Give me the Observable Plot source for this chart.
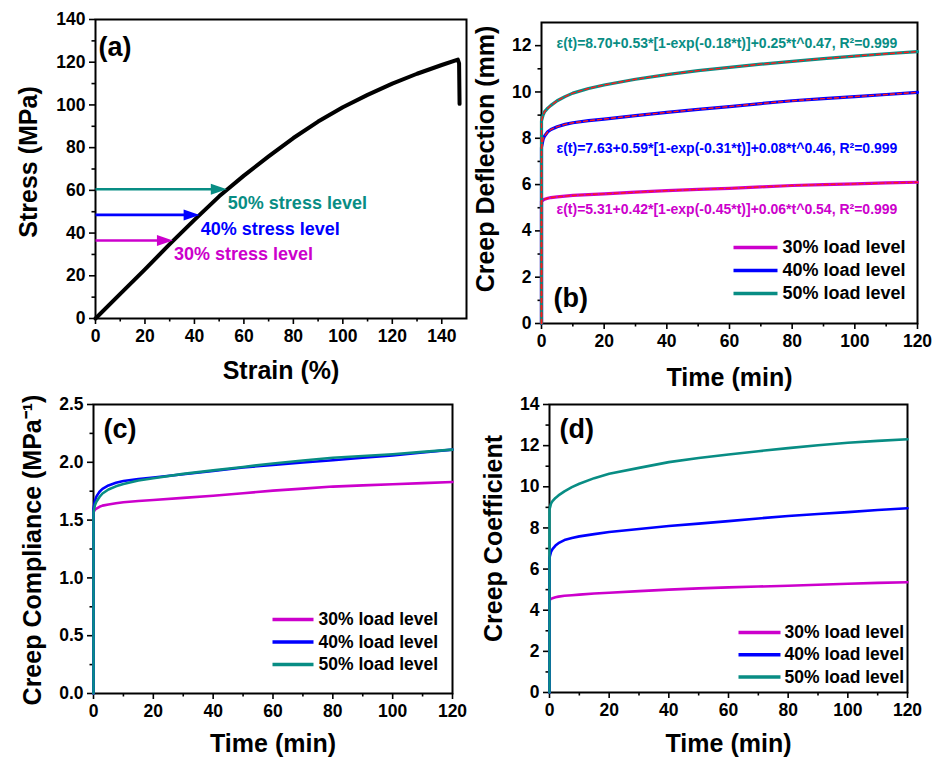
<!DOCTYPE html>
<html><head><meta charset="utf-8">
<script src="https://cdn.jsdelivr.net/npm/d3@7"></script>
<script src="https://cdn.jsdelivr.net/npm/@observablehq/plot@0.6"></script>
<style>
body{margin:0;background:#fff;}
#fig{position:relative;width:934px;height:758px;background:#fff;overflow:hidden;}
#fig svg{position:absolute;}
#fig svg text{font-weight:700 !important;font-family:'Liberation Sans', Arial, sans-serif !important;}
</style></head><body><div id="fig"></div>
<script>
// ---------- Panel (a): tensile stress-strain ----------
const strainA = [0, 10, 20, 30, 40, 50, 60, 70, 80, 90, 100, 110, 120, 130, 140, 146.5, 147, 147.2];
const stressA = [0, 11.5, 23, 34.8, 46.2, 57.2, 66.9, 75.9, 84.5, 92.2, 98.9, 104.7, 110, 114.6, 118.7, 121.2, 119.5, 100.5];
const levelLabels = ["30% stress level", "40% stress level", "50% stress level"];
const levelStress = [36.5, 48.5, 60.5];
const levelStrainTip = [31.3, 42.1, 53.1];

// ---------- Panels (b)-(d): creep data ----------
const timeMin = [0, 0, 0.5, 1, 2, 3, 5, 7.5, 10, 15, 20, 30, 40, 50, 60, 70, 80, 90, 100, 110, 120];
const loadLabels = ["30% load level", "40% load level", "50% load level"];

const deflection30 = [0, 5.28, 5.33, 5.37, 5.41, 5.44, 5.47, 5.5, 5.53, 5.57, 5.6, 5.67, 5.74, 5.79, 5.84, 5.9, 5.96, 6.0, 6.03, 6.07, 6.1];
const deflection40 = [0, 7.6, 7.95, 8.1, 8.28, 8.38, 8.5, 8.6, 8.67, 8.76, 8.83, 8.98, 9.12, 9.25, 9.37, 9.5, 9.62, 9.71, 9.8, 9.89, 9.98];
const deflection50 = [0, 8.75, 9.0, 9.15, 9.3, 9.42, 9.62, 9.8, 9.95, 10.15, 10.3, 10.55, 10.75, 10.92, 11.06, 11.2, 11.32, 11.44, 11.55, 11.65, 11.74];
const fitEquations = [
  "ε(t)=5.31+0.42*[1-exp(-0.45*t)]+0.06*t^0.54, R²=0.999",
  "ε(t)=7.63+0.59*[1-exp(-0.31*t)]+0.08*t^0.46, R²=0.999",
  "ε(t)=8.70+0.53*[1-exp(-0.18*t)]+0.25*t^0.47, R²=0.999"
];

const compliance30 = [0, 1.57, 1.59, 1.6, 1.615, 1.625, 1.635, 1.645, 1.654, 1.665, 1.674, 1.692, 1.71, 1.732, 1.755, 1.772, 1.79, 1.8, 1.81, 1.82, 1.83];
const compliance40 = [0, 1.6, 1.67, 1.705, 1.745, 1.77, 1.8, 1.823, 1.838, 1.855, 1.868, 1.897, 1.925, 1.955, 1.978, 1.998, 2.018, 2.04, 2.06, 2.085, 2.11];
const compliance50 = [0, 1.57, 1.63, 1.66, 1.70, 1.73, 1.765, 1.792, 1.812, 1.842, 1.862, 1.9, 1.93, 1.96, 1.99, 2.015, 2.04, 2.055, 2.07, 2.09, 2.11];

const coefficient30 = [0, 4.48, 4.55, 4.58, 4.63, 4.66, 4.7, 4.73, 4.76, 4.81, 4.85, 4.93, 5.0, 5.06, 5.11, 5.15, 5.19, 5.24, 5.29, 5.33, 5.36];
const coefficient40 = [0, 6.55, 6.83, 6.97, 7.14, 7.26, 7.41, 7.51, 7.59, 7.7, 7.8, 7.95, 8.09, 8.21, 8.33, 8.46, 8.58, 8.68, 8.77, 8.87, 8.96];
const coefficient50 = [0, 8.9, 9.18, 9.3, 9.46, 9.58, 9.78, 9.98, 10.15, 10.42, 10.63, 10.92, 11.2, 11.4, 11.57, 11.73, 11.88, 12.02, 12.14, 12.23, 12.31];

// ---------- styling ----------
const FONT = "'Liberation Sans', Arial, Helvetica, sans-serif";
const colors = ["#cc00cc", "#0000ff", "#088d84"];
const FIT_RED = "#ff1a1a";

const series = (vals) => timeMin.map((t, i) => ({t, v: vals[i]}));

const arrowHead = {draw(ctx) { ctx.moveTo(0, 0); ctx.lineTo(-16, -5.5); ctx.lineTo(-16, 5.5); ctx.closePath(); }};

function panel(cfg) {
  const [mt, mr, mb, ml] = cfg.margin;
  const W = cfg.width, H = cfg.height;
  const fw = W - ml - mr, fh = H - mt - mb;
  const [x0, x1] = cfg.xDomain, [y0, y1] = cfg.yDomain;
  const invX = px => x0 + (px - ml) / fw * (x1 - x0);
  const invY = py => y0 + (H - mb - py) / fh * (y1 - y0);
  const extra = cfg.marks({invX, invY});
  const tickOpts = {fontSize: 17.5, fontWeight: "bold", strokeWidth: 1.6, label: null};
  const svg = Plot.plot({
    width: W, height: H,
    marginTop: mt, marginRight: mr, marginBottom: mb, marginLeft: ml,
    x: {domain: cfg.xDomain},
    y: {domain: cfg.yDomain},
    color: {type: "identity"},
    style: {fontFamily: FONT, fontWeight: "bold", color: "black", background: "none", overflow: "visible"},
    marks: [
      Plot.frame({stroke: "black", strokeWidth: 2}),
      Plot.axisX({...tickOpts, ticks: cfg.xTicks, tickSize: 6, tickPadding: 5, tickFormat: cfg.xFmt || (d => String(d))}),
      Plot.axisX({...tickOpts, ticks: cfg.xMinor, tickSize: 3.5, tickFormat: () => ""}),
      Plot.axisY({...tickOpts, ticks: cfg.yTicks, tickSize: 6, tickPadding: 4, tickFormat: cfg.yFmt || (d => String(d))}),
      Plot.axisY({...tickOpts, ticks: cfg.yMinor, tickSize: 3.5, tickFormat: () => ""}),
      ...extra,
      Plot.text([cfg.xLabel], {text: d => d, frameAnchor: "bottom", dy: cfg.xLabelDy, fontSize: 25, fontWeight: "bold", textAnchor: "middle", lineAnchor: "middle", fill: "black"}),
      Plot.text([cfg.yLabel], {text: d => d, frameAnchor: "left", rotate: -90, dx: cfg.yLabelDx, dy: cfg.yLabelDy, fontSize: 25, fontWeight: "bold", textAnchor: "middle", lineAnchor: "middle", fill: "black"}),
      Plot.text([cfg.tag], {text: d => d, frameAnchor: cfg.tagAnchor, dx: cfg.tagDx, dy: cfg.tagDy, fontSize: 27, fontWeight: "bold", textAnchor: "start", lineAnchor: "middle", fill: "black"})
    ]
  });
  d3.select(svg).selectAll("text").attr("font-weight", "bold").style("font-weight", "bold");
  svg.style.left = cfg.left + "px";
  svg.style.top = cfg.top + "px";
  return svg;
}

function legendMarks(geom) {
  return ({invX, invY}) => {
    const rows = loadLabels.map((label, i) => ({label, color: colors[i], y: invY(geom.y + i * geom.step)}));
    return [
      Plot.link(rows, {x1: () => invX(geom.x1), x2: () => invX(geom.x2), y1: "y", y2: "y", stroke: "color", strokeWidth: 3.5}),
      Plot.text(rows, {x: () => invX(geom.xt), y: "y", text: "label", textAnchor: "start", lineAnchor: "middle", fontSize: geom.fs, fontWeight: "bold", fill: "black"})
    ];
  };
}

function creepLines(arrays, withFit, width) {
  const marks = arrays.map((arr, i) => Plot.line(series(arr), {x: "t", y: "v", stroke: colors[i], strokeWidth: width, strokeLinejoin: "round"}));
  if (withFit) arrays.forEach(arr => marks.push(Plot.line(series(arr), {x: "t", y: "v", stroke: FIT_RED, strokeWidth: 1.4, strokeDasharray: "4,3"})));
  return marks;
}

const fig = document.getElementById("fig");
const xTimeTicks = d3.range(0, 121, 20);
const xTimeMinor = d3.range(10, 120, 20);

// (a)
const curveA = strainA.map((s, i) => ({strain: s, stress: stressA[i]}));
const arrowsA = levelLabels.map((label, i) => ({label, color: colors[i], stress: levelStress[i], tip: levelStrainTip[i]}));
fig.appendChild(panel({
  left: 0, top: 0, width: 470, height: 385, margin: [19, 4, 67, 95],
  xDomain: [0, 150], yDomain: [0, 140],
  xTicks: d3.range(0, 141, 20), xMinor: d3.range(10, 140, 20),
  yTicks: d3.range(0, 141, 20), yMinor: d3.range(10, 140, 20),
  xLabel: "Strain (%)", xLabelDy: 52,
  yLabel: "Stress (MPa)", yLabelDx: -67, yLabelDy: -7,
  tag: "(a)", tagAnchor: "top-left", tagDx: 3, tagDy: 28,
  marks: () => [
    Plot.line(curveA, {x: "strain", y: "stress", stroke: "black", strokeWidth: 4, strokeLinejoin: "round", strokeLinecap: "round"}),
    Plot.link(arrowsA, {x1: () => 0, x2: d => d.tip - 3, y1: "stress", y2: "stress", stroke: "color", strokeWidth: 2.6}),
    Plot.dot(arrowsA, {x: "tip", y: "stress", symbol: arrowHead, fill: "color", stroke: null, r: 5}),
    Plot.text(arrowsA, {x: "tip", y: "stress", text: "label", fill: "color", dx: 1, dy: 14, textAnchor: "start", lineAnchor: "middle", fontSize: 18, fontWeight: "bold"})
  ]
}));

// (b)
const eqOffsets = [187, 125.7, 21];
fig.appendChild(panel({
  left: 470, top: 0, width: 464, height: 390, margin: [22, 17, 67, 71],
  xDomain: [0, 120], yDomain: [0, 13],
  xTicks: xTimeTicks, xMinor: xTimeMinor,
  yTicks: d3.range(0, 13, 2), yMinor: d3.range(1, 12, 2),
  xLabel: "Time (min)", xLabelDy: 54,
  yLabel: "Creep Deflection (mm)", yLabelDx: -56, yLabelDy: -14,
  tag: "(b)", tagAnchor: "bottom-left", tagDx: 12, tagDy: -25,
  marks: (inv) => [
    ...creepLines([deflection30, deflection40, deflection50], true, 3.2),
    ...fitEquations.map((e, i) => Plot.text([e], {text: d => d, fill: colors[i], frameAnchor: "top-left", dx: 15, dy: eqOffsets[i], textAnchor: "start", lineAnchor: "middle", fontSize: 14, fontWeight: "bold"})),
    ...legendMarks({x1: 263, x2: 307, xt: 312, y: 247, step: 23, fs: 18})(inv)
  ]
}));

// (c)
fig.appendChild(panel({
  left: 0, top: 385, width: 470, height: 373, margin: [19, 18, 65, 93],
  xDomain: [0, 120], yDomain: [0, 2.5],
  xTicks: xTimeTicks, xMinor: xTimeMinor,
  yTicks: d3.range(0, 2.51, 0.5), yMinor: d3.range(0.25, 2.5, 0.5), yFmt: d3.format(".1f"),
  xLabel: "Time (min)", xLabelDy: 50,
  yLabel: "Creep Compliance (MPa⁻¹)", yLabelDx: -61, yLabelDy: 1,
  tag: "(c)", tagAnchor: "top-left", tagDx: 10, tagDy: 25,
  marks: (inv) => [
    ...creepLines([compliance30, compliance40, compliance50], false, 2.6),
    ...legendMarks({x1: 272, x2: 313, xt: 318, y: 234, step: 22.5, fs: 17.5})(inv)
  ]
}));

// (d)
fig.appendChild(panel({
  left: 470, top: 385, width: 464, height: 373, margin: [19, 27, 66, 79],
  xDomain: [0, 120], yDomain: [0, 14],
  xTicks: xTimeTicks, xMinor: xTimeMinor,
  yTicks: d3.range(0, 15, 2), yMinor: d3.range(1, 14, 2),
  xLabel: "Time (min)", xLabelDy: 51,
  yLabel: "Creep Coefficient", yLabelDx: -56, yLabelDy: -10,
  tag: "(d)", tagAnchor: "top-left", tagDx: 10, tagDy: 25,
  marks: (inv) => [
    ...creepLines([coefficient30, coefficient40, coefficient50], false, 2.6),
    ...legendMarks({x1: 268, x2: 310, xt: 314, y: 247, step: 22.2, fs: 17.5})(inv)
  ]
}));
</script></body></html>
